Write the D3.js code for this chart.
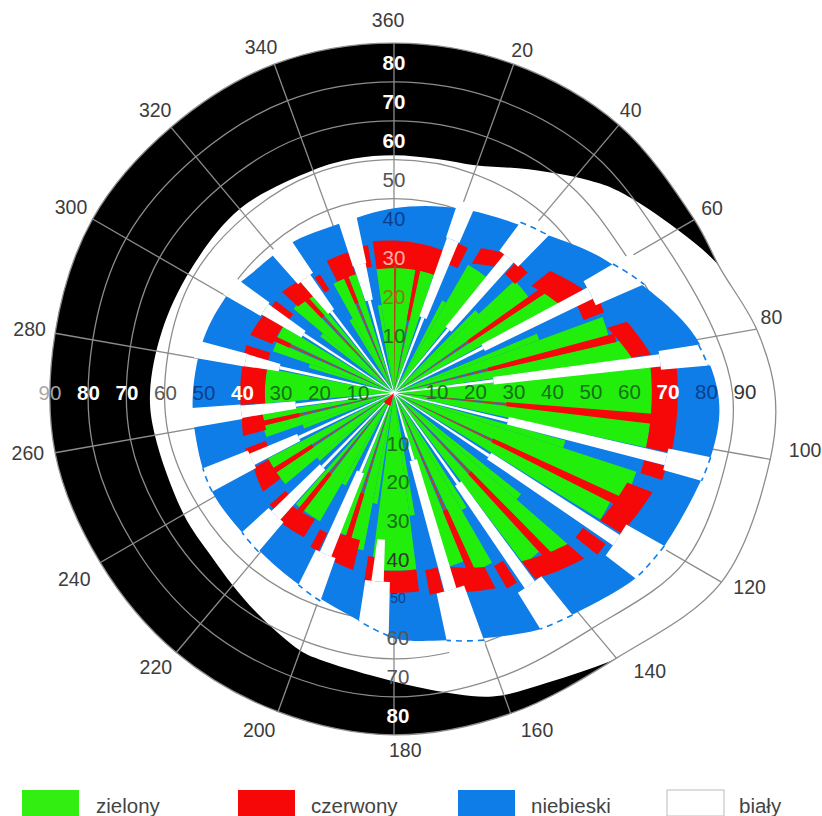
<!DOCTYPE html>
<html><head><meta charset="utf-8">
<script src="https://cdn.jsdelivr.net/npm/d3@7"></script>
<style>html,body{margin:0;padding:0;background:#fff;overflow:hidden}svg{display:block}text{font-family:"Liberation Sans",Arial,sans-serif}</style>
</head><body><svg id="c" width="822" height="816"></svg>
<script>
// ---- data (bearing in degrees, radial values in axis units) ----
const angleTicks=[360,20,40,60,80,100,120,140,160,180,200,220,240,260,280,300,320,340];
const radialTicks=[10,20,30,40,50,60,70,80,90];
const outerEdge=[[0,90.5],[20,90.5],[40,90.5],[60,89.7],[69,90.3],[80,95.2],[90,98.5],[100,98.8],[120,97.8],[140,89.5],[160,88.2],[180,88.4],[200,87.7],[220,87.6],[240,87.7],[260,89],[280,89],[300,90],[320,89.7],[340,90.5]];
const whiteEdge=[[0,61.5],[10,61.5],[20,62.6],[31,67.5],[42.6,74.7],[48,78.1],[60,84.6],[69,90.5],[80,96.2],[90,99.6],[100,99.6],[120,98.5],[130,95.7],[141,89.2],[152,84.8],[162,82.5],[173,77.3],[183,73.7],[195.5,71.6],[200,70.9],[212,67],[220,64.9],[228,63.4],[240,62.8],[260,62.8],[270,63.1],[285,62.1],[301,61.5],[320,62.1],[340,61.3],[350,61.5]];
const blueEdge=[[0,47.8],[20,50.7],[44,56.9],[58,64.7],[78,78.4],[90,83.8],[100,83.8],[119,80.4],[127,78.9],[142,73.4],[149,71.6],[168,65.4],[180,63.4],[189,59.5],[208,55.1],[228,53.3],[243,53.5],[258,52.5],[270,52],[286,51.2],[301,49.9],[310,48.1],[325,47.1],[342,46]];
const greenBands=[[352,370,32.6],[372,378.5,32.3],[30,38.5,38.3],[47,54.5,42.7],[56.5,61.5,48.4],[70,75,57.4],[77,81.7,62.1],[84,95,66.7],[96.5,102.2,66.7],[108,115,65.9],[116.5,121.5,62.6],[131,135.5,59.5],[137.5,142.8,55.6],[150,155.5,50.7],[157.5,162.5,47.1],[172.8,187.3,46],[191,196.5,41.4],[198.5,201.5,38.8],[210,217.5,38.3],[219.5,221.5,38.3],[230,236,36.7],[238,242.5,36.7],[251,256,34.9],[258,261.5,34.4],[265.5,281,33.4],[289,293.5,33.1],[295.5,301,33.4],[310,316,33.9],[318,320.5,33.1],[331,336.5,32.3],[338.5,342.5,32.3]];
const greenCores=[[349.5,352,23],[27.5,30,27],[44.5,47,30],[67.5,70,40],[105.5,108,46],[128.5,131,42],[147.5,150,35],[170.3,172.8,32],[188.5,191,29],[207.5,210,27],[227.5,230,26],[248.5,251,25],[286.5,289,23],[307.5,310,24],[328.5,331,22]];
// start, end, inner and outer value at start, inner and outer value at end
const redBands=[[352,379.5,32.3,39.6,32.3,39],[23,27,36.2,42.1,36.2,42.1],[31,39,39,43.7,41.9,46.3],[43,48,42.1,46.5,42.1,46.5],[52,61.5,45,51.2,48.4,55.9],[64.5,69,52.5,58.2,52.5,58.2],[73,81.5,57.7,63,62.1,67.2],[84,102.2,66.7,73.4,66.7,73.4],[105,108,67,72.9,67,72.9],[111,121.7,64.6,71.6,62.6,69],[125.5,128.5,60,67.2,60,67.2],[131,142.8,59.5,65.2,54.6,60.3],[147,150,51.7,58.4,51.7,58.4],[152.5,162.5,50.7,56.9,47.1,54],[166,170,46.5,53,46.5,53],[172.8,183.7,46,51.7,46,51.7],[186.5,189,42.7,49.1,42.7,49.1],[193,202,39,47,39,46],[205.5,208.5,40.1,45.3,40.1,45.3],[212,222,38.5,44,39.3,44.5],[225.5,228,37.8,43.2,37.8,43.2],[233,242,36.7,42.4,36.7,41.1],[247,249.5,35.4,41.1,35.4,41.1],[254,261,34.4,40.6,34.4,39.8],[265.5,281,33.4,39.8,33.4,39.8],[284.5,288,33.6,40.1,33.6,40.1],[292,301,33.9,40.1,33.4,39.3],[305,308,33.1,38.8,33.1,38.8],[312,320,33.4,39,32.6,38],[325.5,328,31.5,36.2,31.5,36.2],[333,342,32.3,38.3,32.3,38.3],[347.5,350,33.1,38.8,33.1,38.8]];
const redSpokes=[[0.5,33,33],[11,19.1,33],[55.5,23.3,47],[76,25.1,59],[95.7,29.2,67],[115.7,28.2,66],[136.5,28.4,60],[156.5,33.1,52],[197.5,27.2,42],[218.5,26.6,40],[237,25.1,37.5],[257,25.1,35],[294.5,29.5,34],[317,26.9,34],[337.5,25.1,33]];
// bearing, inner end, start of the middle part, start of the wide part, wide part width
const whiteSpokes=[[21,0,20.9,42.4,5],[40.5,0,21.7,45.8,8],[63,0,25.9,56.9,7],[83,0,25.9,69.3,4],[103.7,0,30.3,72.4,4.5],[123.5,0,29.5,69,8],[144.7,0,28.7,60.8,7],[164,0,18.1,53,8],[185,38,38,48.9,7.5],[203,0,22.2,45.3,7],[224,0,26.6,44,7],[245,0,27.2,40.6,7],[263,0,25.6,39.8,5.5],[282.5,0,30.3,39.3,5],[303,0,27.9,39.8,6],[322.3,0,26.6,37.5,7.5],[345,0,24.8,34.4,6]];
const legendNames=["zielony","czerwony","niebieski","biały"];

// ---- layout and styles ----
const cx=394,cy=393;
const rad=d3.scaleLinear().domain([0,90]).range([0,348]);
const colors={green:"#22ee0c",red:"#f70808",blue:"#0f7de8",black:"#000",grid:"#8c8c8c"};
const toRad=d=>d*Math.PI/180;
const svg=d3.select("#c");
const g=svg.append("g").attr("transform",`translate(${cx},${cy})`);

function edgeLookup(t){
  const pts=[[t[t.length-1][0]-360,t[t.length-1][1]],...t,[t[0][0]+360,t[0][1]]];
  const s=d3.scaleLinear().domain(pts.map(d=>d[0])).range(pts.map(d=>d[1]));
  return b=>s(((b%360)+360)%360);
}
const outerAt=edgeLookup(outerEdge), blueAt=edgeLookup(blueEdge);
const radial=(curve)=>d3.lineRadial().angle(d=>toRad(d[0])).radius(d=>rad(d[1])).curve(curve);
const closed=radial(d3.curveCatmullRomClosed.alpha(0.5));
const open=radial(d3.curveLinear);
const arc=d3.arc();
const sector=(b0,b1,v0,v1)=>arc({startAngle:toRad(b0),endAngle:toRad(b1),innerRadius:rad(v0),outerRadius:rad(v1)});
const strip=d3.line();

// black band, white blob
g.append("path").attr("d",closed(outerEdge)).attr("fill",colors.black);
g.append("path").attr("d",closed(whiteEdge)).attr("fill","#fff");

// grid rings follow the outer edge shape
const ringG=g.append("g").attr("fill","none").attr("stroke",colors.grid).attr("stroke-width",1.3);
radialTicks.forEach(v=>{
  const pts=v===90?outerEdge:outerEdge.filter(d=>d[0]!==69);
  ringG.append("path").attr("d",closed(pts.map(d=>[d[0],d[1]*v/90])));
});
const spokeG=g.append("g").attr("stroke",colors.grid).attr("stroke-width",1.3);
angleTicks.forEach(a=>{
  const r=rad(outerAt(a)),t=toRad(a);
  spokeG.append("line").attr("x1",0).attr("y1",0).attr("x2",r*Math.sin(t)).attr("y2",-r*Math.cos(t));
});

// coloured stack
g.append("path").attr("d",closed(blueEdge)).attr("fill",colors.blue);
g.append("g").selectAll("path").data(greenBands.concat(greenCores)).join("path").attr("d",d=>sector(d[0],d[1],0,d[2])).attr("fill",colors.green);
g.append("g").selectAll("path").data(redBands).join("path").attr("d",d=>{
  const [b0,b1,i0,o0,i1,o1]=d, ts=d3.range(0,1.001,0.1);
  const outer=ts.map(t=>[b0+(b1-b0)*t,o0+(o1-o0)*t]);
  const inner=ts.map(t=>[b1+(b0-b1)*t,i1+(i0-i1)*t]);
  return open(outer.concat(inner))+"Z";
}).attr("fill",colors.red);
const rs=g.append("g");
rs.selectAll(".thin").data(redSpokes).join("path").attr("d",d=>sector(d[0]-0.5,d[0]+0.5,0,d[1])).attr("fill","#b8421a");
rs.selectAll(".thick").data(redSpokes.filter(d=>d[2]>d[1])).join("path").attr("d",d=>sector(d[0]-1.1,d[0]+1.1,d[1],d[2])).attr("fill",colors.red);
const ws=g.append("g").attr("fill","#fff");
whiteSpokes.forEach(d=>{
  const [b,from,mid,wide,w]=d;
  const tr=`rotate(${b})`;
  if(mid>from) ws.append("path").attr("transform",tr).attr("d",strip([[-0.4,-rad(from)],[-1.6,-rad(mid)],[1.6,-rad(mid)],[0.4,-rad(from)]])+"Z");
  ws.append("path").attr("transform",tr).attr("d",strip([[-3.8,-rad(mid)],[-6.2,-rad(wide)],[6.2,-rad(wide)],[3.8,-rad(mid)]])+"Z");
  const e=d3.max([b-w/2,b,b+w/2].map(blueAt))+1;
  ws.append("path").attr("d",sector(b-w/2,b+w/2,wide,e));
});
g.append("g").selectAll("path").data(whiteSpokes.slice(1,12)).join("path")
 .attr("d",d=>open(d3.range(0,1.01,0.2).map(t=>{const b=d[0]-d[4]/2+d[4]*t;return [b,blueAt(b)];})))
 .attr("fill","none").attr("stroke",colors.blue).attr("stroke-width",1.6).attr("stroke-dasharray","6 5");
// small red tip at the hub
g.append("path").attr("d",sector(195,230,0,3.5)).attr("fill",colors.red);

// angle labels
const labelR=[373,366,369,368,385,415,405,378,366,357,363,363,370,371,370,373,370,371];
const labelB=[-0.9,20.5,39.9,59.8,78.6,97.9,118.6,137.4,157,178.2,201.8,221,239.8,260.7,280,300,319.8,339];
const angleG=svg.append("g").attr("font-size",19.5).attr("fill","#3c3c3c").attr("text-anchor","middle").attr("dominant-baseline","central");
angleTicks.forEach((a,i)=>{
  const t=toRad(labelB[i]);
  angleG.append("text").attr("x",cx+labelR[i]*Math.sin(t)).attr("y",cy-labelR[i]*Math.cos(t)).text(a);
});

// radial labels on four axes
const rightX=d3.scaleLinear().domain([10,90]).range([437,745]);
const leftX=d3.scaleLinear().domain([10,90]).range([358,50]);
const topY=d3.scaleLinear().domain([10,80]).range([335,62]);
const botY=d3.scaleLinear().domain([10,80]).range([443,715]);
const dg="#17701a",nv="#0b3f8c",gy="#555",wh="#fff";
const rightC={10:dg,20:dg,30:dg,40:dg,50:dg,60:dg,70:wh,80:nv,90:"#333"};
const leftC={10:dg,20:dg,30:dg,40:wh,50:nv,60:gy,70:wh,80:wh,90:"#a8a8a8"};
const topC={10:dg,20:"#8a7a10",30:"#ffb0a0",40:nv,50:gy,60:wh,70:wh,80:wh};
const botC={10:dg,20:dg,30:dg,40:"#333",50:nv,60:gy,70:gy,80:wh};
const rl=svg.append("g").attr("font-size",20.5).attr("text-anchor","middle").attr("dominant-baseline","central");
const heavy=c=>c===wh?"bold":"normal";
radialTicks.forEach(v=>{
  rl.append("text").attr("x",rightX(v)).attr("y",391).attr("fill",rightC[v]).attr("font-weight",heavy(rightC[v])).text(v);
  rl.append("text").attr("x",leftX(v)).attr("y",392).attr("fill",leftC[v]).attr("font-weight",heavy(leftC[v])).text(v);
  if(v<90){
    rl.append("text").attr("x",394).attr("y",topY(v)).attr("fill",topC[v]).attr("font-weight",heavy(topC[v])).text(v);
    rl.append("text").attr("x",398).attr("y",botY(v)).attr("fill",botC[v]).attr("font-weight",heavy(botC[v])).attr("font-size",v==50?14:20.5).text(v);
  }
});

// legend
const legX=d3.scaleOrdinal().domain(legendNames).range([22,238,458,667]);
const legTx=d3.scaleOrdinal().domain(legendNames).range([96,311,531,739]);
const legF=d3.scaleOrdinal().domain(legendNames).range(["#33ee11",colors.red,colors.blue,"#fff"]);
const leg=svg.append("g");
legendNames.forEach(n=>{
  leg.append("rect").attr("x",legX(n)).attr("y",790).attr("width",57).attr("height",26).attr("fill",legF(n)).attr("stroke",n==="biały"?"#bbb":"none");
  leg.append("text").attr("x",legTx(n)).attr("y",805).attr("font-size",20.5).attr("fill","#444").attr("dominant-baseline","central").text(n);
});
</script></body></html>
